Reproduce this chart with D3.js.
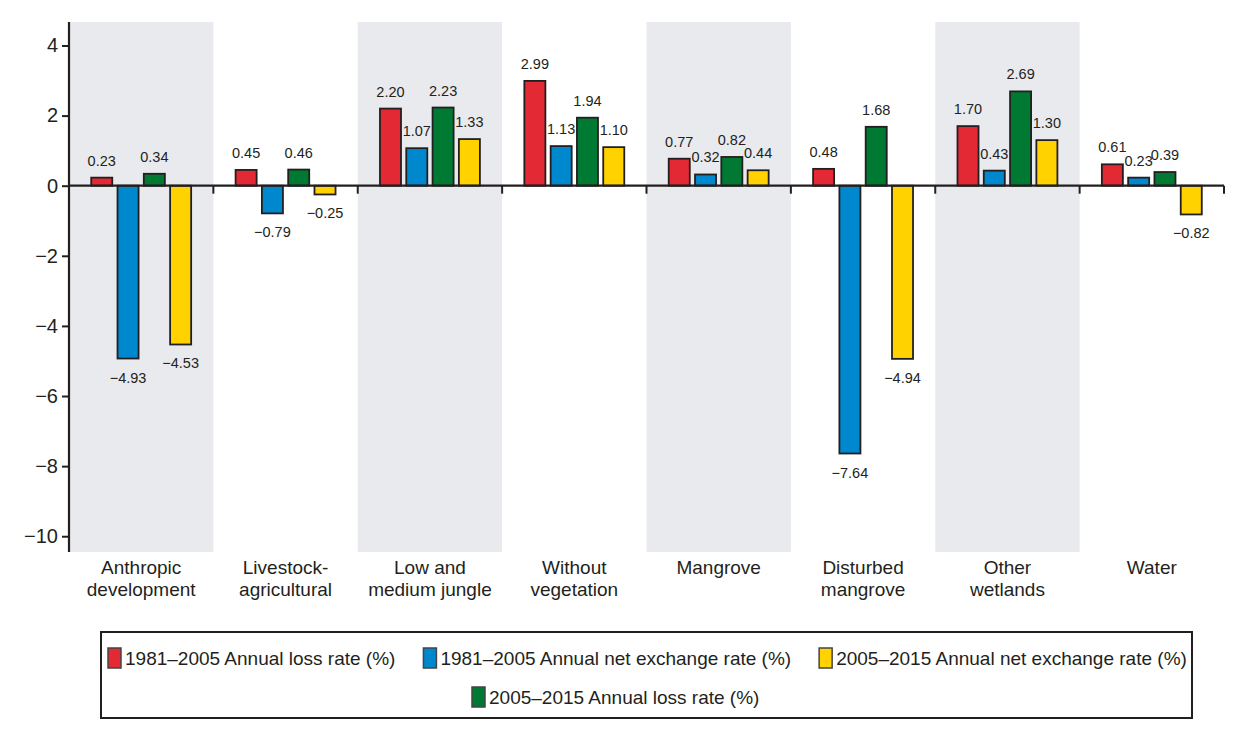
<!DOCTYPE html>
<html><head><meta charset="utf-8">
<script src="https://cdn.jsdelivr.net/npm/d3@7"></script>
<style>
body{margin:0;background:#fff;}
text{font-family:"Liberation Sans Narrow","Arial Narrow",sans-serif;fill:#231f20;}
</style></head><body>
<svg id="c" width="1247" height="732"></svg>
<script>
const categories = [["Anthropic","development"],["Livestock-","agricultural"],["Low and","medium jungle"],["Without","vegetation"],["Mangrove"],["Disturbed","mangrove"],["Other","wetlands"],["Water"]];
const seriesNames = ["1981\u20132005 Annual loss rate (%)","1981\u20132005 Annual net exchange rate (%)","2005\u20132015 Annual loss rate (%)","2005\u20132015 Annual net exchange rate (%)"];
const seriesColors = ["#e32933","#0088cf","#007a33","#ffd200"];
const loss1981 = [0.23,0.45,2.20,2.99,0.77,0.48,1.70,0.61];
const net1981 = [-4.93,-0.79,1.07,1.13,0.32,-7.64,0.43,0.23];
const loss2005 = [0.34,0.46,2.23,1.94,0.82,1.68,2.69,0.39];
const net2005 = [-4.53,-0.25,1.33,1.10,0.44,-4.94,1.30,-0.82];
const yTicks = [4,2,0,-2,-4,-6,-8,-10];
const legendOrder = [0,1,3,2];

const series = [loss1981, net1981, loss2005, net2005];
const svg = d3.select("#c");
const L=69, R=1224, T=22, B=552;
const y = d3.scaleLinear().domain([-10.45, 4.67]).range([B, T]);
const x0 = d3.scaleBand().domain(d3.range(categories.length)).range([L, R]).padding(0);
const x1 = d3.scaleBand().domain(d3.range(4)).range([0, x0.bandwidth()]).paddingInner(0.2).paddingOuter(0.845);
const ink = "#231f20";

// shading
svg.append("g").selectAll("rect").data(d3.range(categories.length).filter(i=>i%2===0)).join("rect")
  .attr("x", i=>x0(i)).attr("y", T).attr("width", x0.bandwidth()).attr("height", B-T).attr("fill","#e9eaee");

// y axis
const ya = svg.append("g").attr("transform",`translate(${L},0)`)
  .call(d3.axisLeft(y).tickValues(yTicks).tickSize(7).tickSizeOuter(0).tickFormat(d=>d<0?"\u2212"+Math.abs(d):d));
ya.select(".domain").remove();
ya.selectAll(".tick line").attr("stroke",ink).attr("stroke-width",2);
ya.selectAll(".tick text").attr("font-size",20).attr("fill",ink).attr("x",-11)
  .style("font-family",'"Liberation Sans Narrow","Arial Narrow",sans-serif');
svg.append("line").attr("x1",L).attr("x2",L).attr("y1",T).attr("y2",B).attr("stroke",ink).attr("stroke-width",2.2);

// bars
const data = [];
categories.forEach((c,i)=>series.forEach((s,j)=>data.push({i,j,v:s[i]})));
const g = svg.append("g");
g.selectAll("rect").data(data).join("rect")
  .attr("x", d=>x0(d.i)+x1(d.j)).attr("width", x1.bandwidth())
  .attr("y", d=>y(Math.max(0,d.v))).attr("height", d=>Math.abs(y(d.v)-y(0)))
  .attr("fill", d=>seriesColors[d.j]).attr("stroke",ink).attr("stroke-width",1.8);

// value labels
g.selectAll("text").data(data).join("text")
  .attr("x", d=>x0(d.i)+x1(d.j)+x1.bandwidth()/2)
  .attr("y", d=> d.v>=0 ? y(d.v)-12 : y(d.v)+24)
  .attr("text-anchor","middle").attr("font-size",14.5)
  .text(d=> d.v<0 ? "\u2212"+Math.abs(d.v).toFixed(2) : d.v.toFixed(2));

// zero line with ticks
svg.append("line").attr("x1",L).attr("x2",R).attr("y1",y(0)).attr("y2",y(0)).attr("stroke",ink).attr("stroke-width",2.2);
svg.append("g").selectAll("line").data(d3.range(1,categories.length+1)).join("line")
  .attr("x1",i=>i===categories.length?R:x0(i)).attr("x2",i=>i===categories.length?R:x0(i))
  .attr("y1",y(0)).attr("y2",y(0)+8).attr("stroke",ink).attr("stroke-width",2);

// category labels
const cl = svg.append("g").selectAll("text").data(categories).join("text")
  .attr("x",(d,i)=>x0(i)+x0.bandwidth()/2).attr("y",574).attr("text-anchor","middle").attr("font-size",19);
cl.selectAll("tspan").data(d=>d).join("tspan").attr("x",function(){return d3.select(this.parentNode).attr("x");})
  .attr("dy",(d,k)=>k===0?0:22).text(d=>d);

// legend
svg.append("rect").attr("x",101).attr("y",632).attr("width",1091).attr("height",86).attr("fill","none").attr("stroke",ink).attr("stroke-width",2);
const lg = svg.append("g");
function legendRow(idxs, yc, startX){
  let xx = startX;
  idxs.forEach(j=>{
    lg.append("rect").attr("x",xx).attr("y",yc-10).attr("width",13).attr("height",20).attr("fill",seriesColors[j]).attr("stroke","#444").attr("stroke-width",1.5);
    const t = lg.append("text").attr("x",xx+17).attr("y",yc+7).attr("font-size",19).text(seriesNames[j]);
    xx += 17 + t.node().getComputedTextLength() + 28;
  });
}
legendRow([0,1,3], 658, 108);
legendRow([2], 697, 472);
</script></body></html>
